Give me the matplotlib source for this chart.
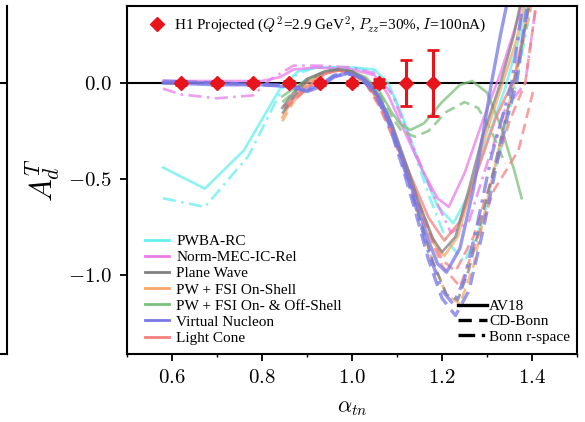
import matplotlib
matplotlib.use("Agg")
import matplotlib.pyplot as plt
from matplotlib.lines import Line2D
from matplotlib.ticker import FuncFormatter, MultipleLocator

plt.rcParams['mathtext.fontset'] = 'cm'
plt.rcParams['font.family'] = ['Liberation Serif', 'DejaVu Serif']

# projected H1 points
alpha_data = [0.62, 0.70, 0.78, 0.86, 0.93, 1.00, 1.06, 1.12, 1.18]
at_data = [0.0, 0.0, 0.0, 0.0, 0.0, 0.0, 0.0, 0.0, 0.0]
at_err = [0.01, 0.01, 0.01, 0.01, 0.01, 0.01, 0.02, 0.12, 0.17]

# PWBA-RC
pwba_av18_x = [0.58, 0.673, 0.76, 0.84, 0.88, 0.92, 1.00, 1.05, 1.08, 1.11, 1.15, 1.19, 1.225, 1.26, 1.30, 1.34, 1.37, 1.39]
pwba_av18_y = [-0.44, -0.55, -0.35, -0.03, 0.06, 0.08, 0.08, 0.07, 0.0, -0.16, -0.42, -0.64, -0.73, -0.58, -0.30, -0.03, 0.22, 0.42]
pwba_bonnr_x = [0.58, 0.673, 0.77, 0.845, 0.88, 0.92, 1.00, 1.05, 1.09, 1.13, 1.17, 1.21, 1.25, 1.29, 1.33, 1.365, 1.40]
pwba_bonnr_y = [-0.60, -0.645, -0.38, -0.03, 0.05, 0.08, 0.08, 0.06, -0.05, -0.30, -0.58, -0.82, -0.93, -0.72, -0.35, 0.0, 0.42]

# Norm-MEC-IC-Rel
norm_av18_x = [0.58, 0.70, 0.80, 0.84, 0.87, 0.92, 1.00, 1.05, 1.08, 1.12, 1.16, 1.19, 1.215, 1.25, 1.29, 1.33, 1.36, 1.38]
norm_av18_y = [0.01, 0.01, 0.01, 0.03, 0.07, 0.08, 0.07, 0.04, -0.06, -0.27, -0.47, -0.60, -0.645, -0.47, -0.20, 0.05, 0.27, 0.42]
norm_bonnr_x = [0.58, 0.62, 0.70, 0.78, 0.82, 0.87, 0.93, 1.00, 1.05, 1.09, 1.13, 1.18, 1.22, 1.26, 1.30, 1.34, 1.385, 1.41]
norm_bonnr_y = [-0.03, -0.06, -0.08, -0.065, 0.02, 0.09, 0.09, 0.08, 0.05, -0.06, -0.30, -0.58, -0.78, -0.72, -0.42, -0.14, 0.0, 0.42]

# Plane Wave
pw_av18_x = [0.845, 0.87, 0.90, 0.94, 0.97, 1.00, 1.03, 1.06, 1.09, 1.12, 1.15, 1.18, 1.20, 1.23, 1.26, 1.29, 1.33, 1.36, 1.375]
pw_av18_y = [-0.13, -0.05, 0.02, 0.06, 0.07, 0.06, 0.02, -0.07, -0.22, -0.42, -0.63, -0.81, -0.88, -0.80, -0.55, -0.28, 0.0, 0.25, 0.42]
pw_cdb_x = [0.845, 0.87, 0.90, 0.94, 0.97, 1.00, 1.03, 1.06, 1.09, 1.12, 1.15, 1.18, 1.21, 1.235, 1.26, 1.28, 1.31, 1.34, 1.37, 1.395]
pw_cdb_y = [-0.16, -0.07, 0.01, 0.06, 0.07, 0.06, 0.01, -0.08, -0.24, -0.46, -0.70, -0.93, -1.10, -1.13, -0.97, -0.78, -0.50, -0.20, 0.10, 0.42]

# PW + FSI On-Shell
fsi_on_av18_x = [0.845, 0.87, 0.90, 0.94, 0.97, 1.00, 1.03, 1.06, 1.09, 1.12, 1.15, 1.18, 1.205, 1.235, 1.265, 1.30, 1.335, 1.365, 1.385]
fsi_on_av18_y = [-0.18, -0.08, 0.0, 0.05, 0.065, 0.055, 0.01, -0.08, -0.23, -0.43, -0.64, -0.83, -0.90, -0.80, -0.55, -0.25, 0.0, 0.22, 0.42]
fsi_on_cdb_x = [0.845, 0.87, 0.90, 0.94, 0.97, 1.00, 1.03, 1.06, 1.09, 1.12, 1.15, 1.18, 1.21, 1.24, 1.27, 1.30, 1.33, 1.36, 1.40]
fsi_on_cdb_y = [-0.20, -0.10, -0.01, 0.05, 0.065, 0.05, 0.0, -0.09, -0.25, -0.46, -0.70, -0.94, -1.10, -1.15, -0.95, -0.62, -0.30, 0.0, 0.42]

# PW + FSI On- & Off-Shell
fsi_off_av18_x = [0.845, 0.87, 0.90, 0.94, 0.97, 1.00, 1.03, 1.06, 1.09, 1.11, 1.13, 1.16, 1.20, 1.24, 1.267, 1.30, 1.33, 1.36, 1.377]
fsi_off_av18_y = [-0.07, -0.03, 0.02, 0.06, 0.07, 0.06, 0.03, -0.04, -0.16, -0.22, -0.245, -0.21, -0.10, -0.01, 0.01, -0.05, -0.22, -0.45, -0.60]
fsi_off_cdb_x = [0.845, 0.87, 0.90, 0.94, 0.97, 1.00, 1.03, 1.06, 1.09, 1.11, 1.14, 1.17, 1.21, 1.25, 1.28, 1.31, 1.34]
fsi_off_cdb_y = [-0.10, -0.05, 0.01, 0.05, 0.065, 0.055, 0.02, -0.05, -0.18, -0.25, -0.28, -0.25, -0.15, -0.10, -0.13, -0.25, -0.42]

# Virtual Nucleon
vn_av18_x = [0.58, 0.70, 0.80, 0.86, 0.90, 0.93, 0.96, 0.99, 1.02, 1.05, 1.08, 1.11, 1.14, 1.17, 1.19, 1.21, 1.24, 1.27, 1.29, 1.31, 1.33, 1.345]
vn_av18_y = [0.0, -0.01, -0.01, -0.02, -0.045, -0.02, 0.03, 0.05, 0.03, -0.03, -0.17, -0.38, -0.60, -0.82, -0.94, -0.985, -0.86, -0.55, -0.28, 0.0, 0.25, 0.42]
vn_cdb_x = [0.58, 0.70, 0.80, 0.86, 0.90, 0.93, 0.96, 0.99, 1.02, 1.05, 1.08, 1.11, 1.14, 1.17, 1.20, 1.23, 1.26, 1.29, 1.32, 1.345, 1.366, 1.39]
vn_cdb_y = [0.01, 0.0, -0.01, -0.01, -0.035, -0.01, 0.04, 0.05, 0.02, -0.05, -0.20, -0.42, -0.66, -0.92, -1.12, -1.21, -1.08, -0.78, -0.44, -0.18, 0.0, 0.42]
vn_bonnr_x = [0.58, 0.70, 0.80, 0.86, 0.90, 0.93, 0.96, 0.99, 1.02, 1.05, 1.08, 1.11, 1.14, 1.17, 1.20, 1.225, 1.25, 1.28, 1.31, 1.355, 1.38]
vn_bonnr_y = [0.0, 0.0, -0.01, -0.015, -0.04, -0.015, 0.035, 0.05, 0.025, -0.04, -0.19, -0.40, -0.63, -0.88, -1.08, -1.15, -1.02, -0.72, -0.38, 0.0, 0.42]

# Light Cone
lc_av18_x = [0.85, 0.90, 0.94, 0.97, 1.00, 1.03, 1.06, 1.09, 1.13, 1.17, 1.205, 1.24, 1.28, 1.32, 1.36, 1.395]
lc_av18_y = [-0.12, -0.02, 0.05, 0.065, 0.055, 0.01, -0.10, -0.25, -0.48, -0.70, -0.82, -0.72, -0.45, -0.18, 0.02, 0.42]
lc_cdb_x = [0.85, 0.90, 0.94, 0.97, 1.00, 1.03, 1.06, 1.09, 1.12, 1.16, 1.20, 1.24, 1.28, 1.315, 1.37, 1.405]
lc_cdb_y = [-0.14, -0.03, 0.05, 0.065, 0.05, 0.0, -0.12, -0.28, -0.45, -0.72, -0.95, -1.06, -0.80, -0.56, -0.35, -0.02]
lc_bonnr_x = [0.85, 0.90, 0.94, 0.97, 1.00, 1.03, 1.06, 1.09, 1.13, 1.17, 1.20, 1.23, 1.27, 1.31, 1.35, 1.385, 1.41]
lc_bonnr_y = [-0.13, -0.03, 0.05, 0.065, 0.05, 0.0, -0.11, -0.27, -0.50, -0.76, -0.92, -0.98, -0.80, -0.50, -0.20, 0.0, 0.42]

model_names = ['PWBA-RC', 'Norm-MEC-IC-Rel', 'Plane Wave', 'PW + FSI On-Shell',
               'PW + FSI On- & Off-Shell', 'Virtual Nucleon', 'Light Cone']
model_colors = ['#66f0f0', '#ea7cea', '#808080', '#f5a86a', '#7cc07c', '#7878e6', '#f48080']
potential_names = ['AV18', 'CD-Bonn', 'Bonn r-space']

DASHED = (0, (4.0, 2.2))
DASHDOT = (0, (5.0, 2.0, 1.0, 2.0))

curves = [
    (pwba_av18_x, pwba_av18_y, 0, '-'),
    (pwba_bonnr_x, pwba_bonnr_y, 0, DASHDOT),
    (norm_av18_x, norm_av18_y, 1, '-'),
    (norm_bonnr_x, norm_bonnr_y, 1, DASHDOT),
    (fsi_off_av18_x, fsi_off_av18_y, 4, '-'),
    (fsi_off_cdb_x, fsi_off_cdb_y, 4, DASHED),
    (fsi_on_av18_x, fsi_on_av18_y, 3, '-'),
    (fsi_on_cdb_x, fsi_on_cdb_y, 3, DASHED),
    (lc_av18_x, lc_av18_y, 6, '-'),
    (lc_cdb_x, lc_cdb_y, 6, DASHED),
    (lc_bonnr_x, lc_bonnr_y, 6, DASHED),
    (pw_av18_x, pw_av18_y, 2, '-'),
    (pw_cdb_x, pw_cdb_y, 2, DASHED),
    (vn_av18_x, vn_av18_y, 5, '-'),
    (vn_cdb_x, vn_cdb_y, 5, DASHED),
    (vn_bonnr_x, vn_bonnr_y, 5, DASHDOT),
]

fig = plt.figure(figsize=(5.85, 4.22), dpi=100)

# neighbouring panel, only its right edge is in frame
ax0 = fig.add_axes([0.012 - 0.77, 0.1611, 0.77, 0.8247])
ax0.set_xlim(0.5, 1.5)
ax0.set_ylim(-1.41, 0.40)
ax0.axhline(0.0, color='black', lw=1.5)
ax0.set_xticks([])
ax0.set_yticks([])
ax0.spines['top'].set_visible(False)
for s in ['right', 'bottom']:
    ax0.spines[s].set_linewidth(1.5)

ax = fig.add_axes([0.2171, 0.1611, 0.7692, 0.8247])
ax.set_xlim(0.5, 1.5)
ax.set_ylim(-1.41, 0.40)

ax.axhline(0.0, color='black', lw=1.5, zorder=1)

for cx, cy, k, ls in curves:
    lw = 2.4 if k == 5 else 1.9
    ax.plot(cx, cy, color=model_colors[k], ls=ls, lw=lw, alpha=0.75, zorder=2)

ax.errorbar(alpha_data, at_data, yerr=at_err, fmt='D', color='#e8141c', ms=7.5,
            elinewidth=2.2, capsize=4, capthick=2.0, zorder=5)

# axes styling
for s in ax.spines.values():
    s.set_linewidth(1.5)
ax.xaxis.set_major_locator(MultipleLocator(0.2))
ax.xaxis.set_minor_locator(MultipleLocator(0.1))
ax.yaxis.set_major_locator(MultipleLocator(0.5))
ax.tick_params(axis='both', which='major', direction='out', length=5, width=1.3, labelsize=15, pad=6)
ax.tick_params(axis='x', which='minor', direction='out', length=2.5, width=1.0)
ax.xaxis.set_major_formatter(FuncFormatter(lambda v, p: '$%.1f$' % v))
ax.yaxis.set_major_formatter(FuncFormatter(lambda v, p: '$%.1f$' % v))

ax.set_ylabel(r'$A_d^T$', fontsize=22)
ax.yaxis.set_label_coords(-0.145, 0.5)
ax.set_xlabel(r'$\alpha_{tn}$', fontsize=16)
ax.xaxis.set_label_coords(0.5, -0.13)

# legends
h1 = Line2D([], [], ls='none', marker='D', color='#e8141c', ms=7.5)
leg1 = ax.legend([h1], [r'H1 Projected ($Q^2$=2.9 GeV$^2$, $P_{zz}$=30%, $I$=100nA)'],
                 loc='upper left', bbox_to_anchor=(0.05, 0.975), frameon=False,
                 fontsize=11, handlelength=1.0, handletextpad=0.6,
                 borderpad=0, borderaxespad=0)
ax.add_artist(leg1)

model_handles = [Line2D([], [], color=c, lw=2.0) for c in model_colors]
leg2 = ax.legend(model_handles, model_names, loc='lower left',
                 bbox_to_anchor=(0.04, 0.026), frameon=False, fontsize=11,
                 handlelength=1.6, handletextpad=0.45, labelspacing=0.16,
                 borderpad=0, borderaxespad=0)
ax.add_artist(leg2)

pot_handles = [Line2D([], [], color='black', lw=2.4, ls=s) for s in ['-', DASHED, DASHDOT]]
ax.legend(pot_handles, potential_names, loc='lower right',
          bbox_to_anchor=(0.985, 0.03), frameon=False, fontsize=11,
          handlelength=1.9, handletextpad=0.15, labelspacing=0.1,
          borderpad=0, borderaxespad=0)

fig.savefig('out.png', dpi=100)
